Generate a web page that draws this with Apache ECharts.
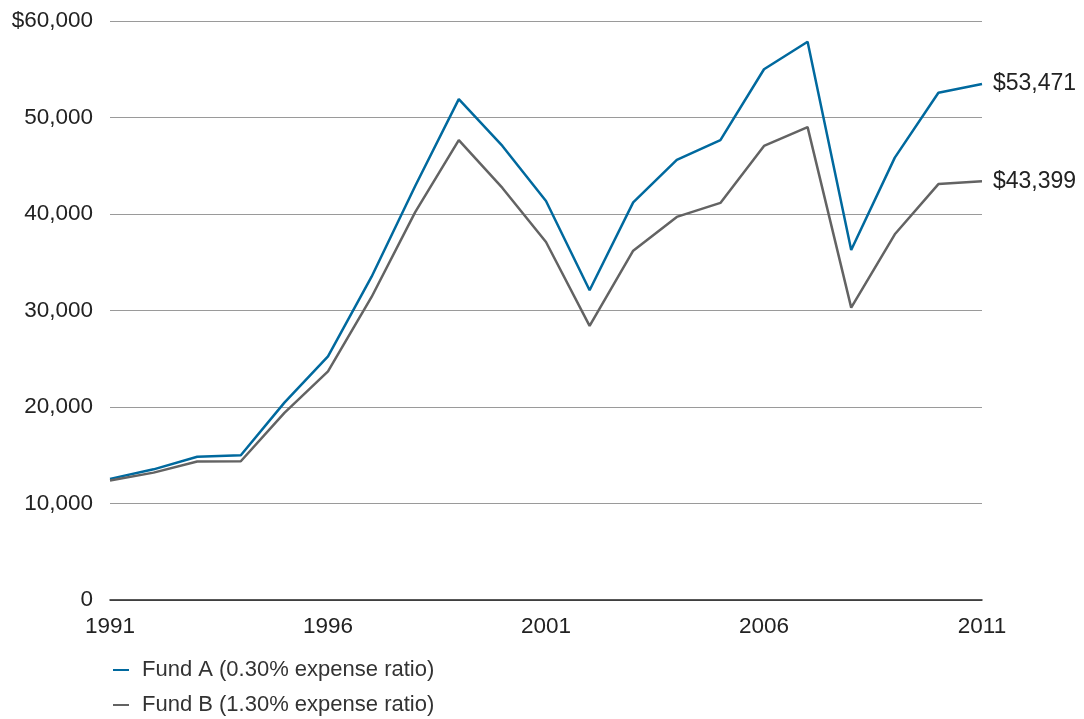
<!DOCTYPE html>
<html>
<head>
<meta charset="utf-8">
<script src="https://cdn.jsdelivr.net/npm/echarts@6/dist/echarts.min.js"></script>
<style>html,body{margin:0;padding:0;background:#fff}#c{width:1084px;height:719px}</style>
</head>
<body>
<div id="c"></div>
<script>
const years = ['1991','1992','1993','1994','1995','1996','1997','1998','1999','2000','2001','2002','2003','2004','2005','2006','2007','2008','2009','2010','2011'];
const fundA = [12550,13540,14850,15000,20450,25250,33500,42900,51900,47050,41350,32100,41200,45600,47650,55000,57850,36270,45840,52570,53471];
const fundB = [12380,13200,14350,14380,19400,23700,31400,40200,47650,42700,37100,28400,36200,39700,41150,47050,49000,30300,37900,43100,43399];
const yTicks = ['0','10,000','20,000','30,000','40,000','50,000','$60,000'];
const names = ['Fund A (0.30% expense ratio)','Fund B (1.30% expense ratio)'];
const colors = ['#00699e','#636363'];
const FONT = 'Liberation Sans';
const legendBase = {
  orient:'vertical', left:113, padding:0,
  icon:'rect', itemWidth:16, itemHeight:2,
  textStyle:{fontSize:22,color:'#333',fontFamily:FONT,padding:[0,0,0,8]}
};
const chart = echarts.init(document.getElementById('c'));
chart.setOption({
  animation:false,
  textStyle:{fontFamily:FONT},
  grid:{left:110,right:102,top:21,bottom:119},
  legend:[
    Object.assign({}, legendBase, {top:659, data:[names[0]]}),
    Object.assign({}, legendBase, {top:694, data:[names[1]]})
  ],
  xAxis:{
    type:'category', data:years, boundaryGap:false,
    axisLine:{lineStyle:{color:'#222',width:1.5}},
    axisTick:{show:false},
    axisLabel:{interval:4,fontSize:22.5,color:'#222',margin:15,fontFamily:FONT}
  },
  yAxis:{
    type:'value', min:0, max:60000, interval:10000,
    axisLine:{show:false}, axisTick:{show:false},
    splitLine:{lineStyle:{color:'#9a9a9a',width:1.2}},
    axisLabel:{fontSize:22.5,color:'#222',margin:17,fontFamily:FONT,
      formatter:(v)=>yTicks[Math.round(v/10000)]}
  },
  series:[
    {name:names[0],type:'line',data:fundA,symbol:'none',
     lineStyle:{color:colors[0],width:2.5},itemStyle:{color:colors[0]},
     endLabel:{show:true,distance:11,fontSize:23,color:'#222',fontFamily:FONT,
       formatter:(p)=>'$'+p.value.toLocaleString('en-US')}},
    {name:names[1],type:'line',data:fundB,symbol:'none',
     lineStyle:{color:colors[1],width:2.5},itemStyle:{color:colors[1]},
     endLabel:{show:true,distance:11,fontSize:23,color:'#222',fontFamily:FONT,
       formatter:(p)=>'$'+p.value.toLocaleString('en-US')}}
  ]
});
</script>
</body>
</html>
